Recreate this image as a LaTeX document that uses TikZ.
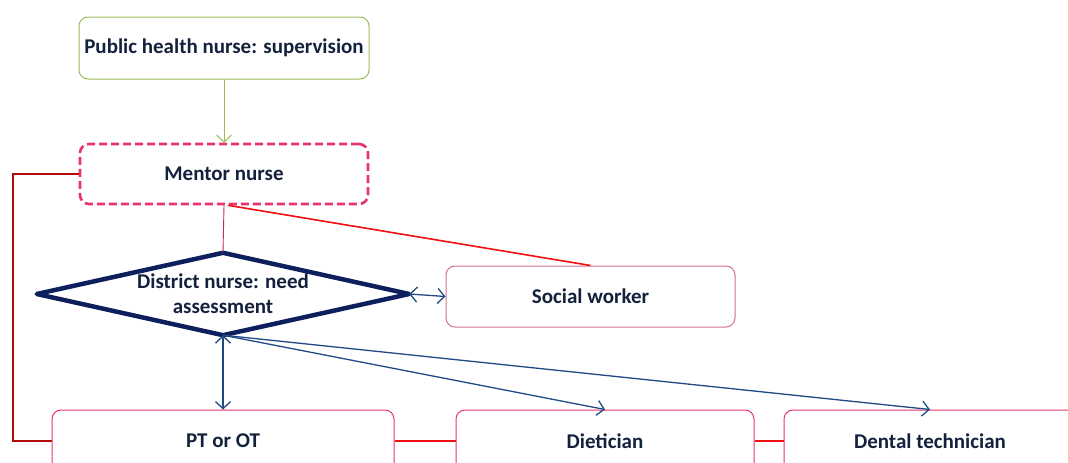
\documentclass[tikz,border=0pt]{standalone}
\usepackage{fontspec}
\setmainfont{Carlito}
\usetikzlibrary{arrows.meta}
\definecolor{txt}{HTML}{14213D}
\definecolor{grn}{HTML}{9BBB59}
\definecolor{pnk}{HTML}{E8336D}
\definecolor{mauve}{HTML}{D0708F}
\definecolor{rd}{HTML}{F01010}
\definecolor{navy}{HTML}{0D1F5C}
\definecolor{arr}{HTML}{1F4A85}
\tikzset{
  lbl/.style={text=txt, font=\bfseries\fontsize{21}{25}\selectfont, inner sep=0pt},
  box/.style={lbl, draw, rounded corners=9pt, minimum height=62pt, line width=1pt},
  redline/.style={draw=rd, line width=1.6pt},
  blarr/.style={draw=arr, line width=1.3pt, -{Straight Barb[length=7pt,width=15pt,line width=1.3pt]}},
  blarr2/.style={draw=arr, line width=1.3pt, {Straight Barb[length=7pt,width=15pt,line width=1.3pt]}-{Straight Barb[length=7pt,width=15pt,line width=1.3pt]}},
}
\begin{document}
\begin{tikzpicture}[x=1pt,y=-1pt]
\useasboundingbox (0,0) rectangle (1068,463);
\clip (0,0) rectangle (1068,463);
\node[box, draw=grn, minimum width=290pt] (phn) at (224,48) {Public health nurse: supervision};
\node[box, draw=pnk, line width=2.6pt, dash pattern=on 8pt off 4pt, minimum width=288pt, minimum height=60pt] (men) at (224,174) {Mentor nurse};
\node[lbl, minimum width=372pt, minimum height=82pt, align=center] (dis) at (223,294) {District nurse: need\\assessment};
\draw[navy, line width=4.5pt, line join=round] (dis.north) -- (dis.east) -- (dis.south) -- (dis.west) -- cycle;
\node[box, draw=mauve, minimum width=289pt, minimum height=61pt] (soc) at (590.5,296.5) {Social worker};
\node[box, draw=pnk, minimum width=342pt] (pt) at (223,441) {PT or OT};
\node[box, draw=pnk, minimum width=298pt] (die) at (605,441) {Dietician};
\node[box, draw=pnk, minimum width=292pt] (den) at (930,441) {Dental technician};
\coordinate (lk) at (13,174);
\draw[grn, line width=1pt, -{Straight Barb[length=7pt,width=15pt,line width=1pt]}] (phn.south) -- (men.north);
\draw[draw=rd!75!black, line width=1.6pt] (men.west) -- (lk) |- (pt.west);
\draw[draw=pnk!85!black, line width=0.9pt] (men.south) -- (dis.north);
\draw[redline] ([xshift=4pt]men.south) -- (soc.north);
\draw[blarr2] (dis.east) -- (soc.west);
\draw[blarr2] (dis.south) -- (pt.north);
\draw[blarr] (dis.south) -- (die.north);
\draw[blarr] (dis.south) -- (den.north);
\draw[redline] (pt.east) -- (die.west);
\draw[redline] (die.east) -- (den.west);
\end{tikzpicture}
\end{document}
